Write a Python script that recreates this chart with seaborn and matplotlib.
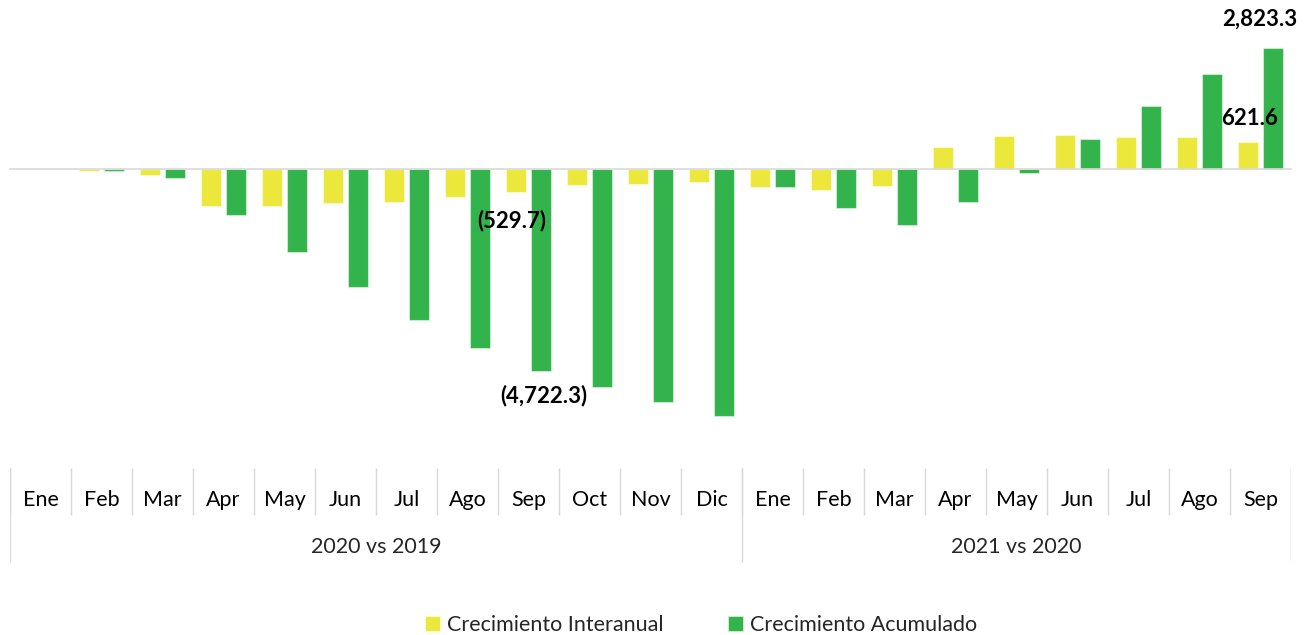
import numpy as np
import pandas as pd
import seaborn as sns
import matplotlib.pyplot as plt

# datos
meses_2020 = ['Ene', 'Feb', 'Mar', 'Apr', 'May', 'Jun', 'Jul', 'Ago', 'Sep', 'Oct', 'Nov', 'Dic']
meses_2021 = ['Ene', 'Feb', 'Mar', 'Apr', 'May', 'Jun', 'Jul', 'Ago', 'Sep']
grupos = ['2020 vs 2019', '2021 vs 2020']

interanual_2020 = [8, -54, -147, -859, -873, -789, -765, -655, -529.7, -367, -351, -297]
acumulado_2020 = [10, -54, -211, -1076, -1949, -2754, -3533, -4189, -4722.3, -5101, -5459, -5773]
interanual_2021 = [-414, -491, -391, 522, 772, 796, 756, 749, 621.6]
acumulado_2021 = [-414, -906, -1310, -780, -87, 702, 1467, 2216, 2823.3]

series = ['Crecimiento Interanual', 'Crecimiento Acumulado']
colores = ['#EBE83B', '#33B34B']

claves = [f'2020-{m}' for m in meses_2020] + [f'2021-{m}' for m in meses_2021]
etiquetas = meses_2020 + meses_2021
inter = interanual_2020 + interanual_2021
acum = acumulado_2020 + acumulado_2021

df = pd.DataFrame({
    'mes': claves * 2,
    'serie': [series[0]] * len(claves) + [series[1]] * len(claves),
    'valor': inter + acum,
})

sns.set_style('white')
plt.rcParams['font.family'] = ['Lato', 'DejaVu Sans']

W, H = 1312, 635
fig = plt.figure(figsize=(W / 100, H / 100), dpi=100)

# ejes principales (pixeles: x 10-1291, y 20-460, cero en y=169)
px = 23.4
ax = fig.add_axes([10 / W, 1 - 460 / H, 1281 / W, 440 / H])
sns.barplot(data=df, x='mes', y='valor', hue='serie', order=claves, hue_order=series,
            palette=colores, width=0.84, gap=0.22, saturation=1, ax=ax)
ax.set_xlim(-0.5, len(claves) - 0.5)
ax.set_ylim((169 - 460) * px, (169 - 20) * px)
ax.set_xlabel('')
ax.set_ylabel('')
ax.set_yticks([])
for s in ['top', 'right', 'left']:
    ax.spines[s].set_visible(False)
ax.spines['bottom'].set_position(('data', 0))
ax.spines['bottom'].set_color('#D9D9D9')
ax.spines['bottom'].set_linewidth(1.2)
ax.set_xticks(range(len(claves)))
ax.tick_params(axis='x', which='major', length=0, labelbottom=False)
ax.set_xticks(np.arange(-0.5, len(claves), 1), minor=True)
ax.tick_params(axis='x', which='minor', length=5, width=1.2, color='#D9D9D9', direction='out')

# borde claro de las barras, como en el original
for p in ax.patches:
    p.set_edgecolor((1, 1, 1, 0.45))
    p.set_linewidth(0.8)

# etiquetas de datos
n = len(claves)
def etiqueta(i, serie, v, dy, dx=0):
    off = -0.21 if serie == 0 else 0.21
    txt = f'{abs(v):,.1f}'
    if v < 0:
        txt = f'({txt})'
    ax.annotate(txt, (i + off, v), xytext=(dx, dy), textcoords='offset points',
                ha='center', va='center', fontsize=16, fontweight='bold', color='black')

etiqueta(8, 0, inter[8], -21, -3)
etiqueta(8, 1, acum[8], -18, 2)
etiqueta(n - 1, 0, inter[n - 1], 17, 1)
etiqueta(n - 1, 1, acum[n - 1], 21, -10)

handles, labels = ax.get_legend_handles_labels()
ax.legend(handles, labels, loc='center', bbox_to_anchor=((701 - 10) / 1281, (460 - 625) / 440),
          ncol=2, frameon=False, fontsize=15.5, handlelength=0.7, handleheight=0.7,
          handletextpad=0.3, columnspacing=3.0)

# tabla de categorias abajo
ax2 = fig.add_axes([10 / W, 1 - 565 / H, 1281 / W, 100 / H], sharex=ax)
ax2.set_ylim(565, 465)
ax2.axis('off')
gris = '#D9D9D9'
for b in np.arange(-0.5, n, 1):
    ax2.vlines(b, 468, 515, color=gris, lw=1)
limites = [-0.5, len(meses_2020) - 0.5, n - 0.5]
for b in limites:
    ax2.vlines(b, 468, 562, color=gris, lw=1)
for i, m in enumerate(etiquetas):
    ax2.text(i, 500, m, ha='center', va='center', fontsize=15.5, color='black')
ax2.text((limites[0] + limites[1]) / 2, 547, grupos[0], ha='center', va='center', fontsize=15.5)
ax2.text((limites[1] + limites[2]) / 2, 547, grupos[1], ha='center', va='center', fontsize=15.5)

fig.savefig('out.png', dpi=100)
